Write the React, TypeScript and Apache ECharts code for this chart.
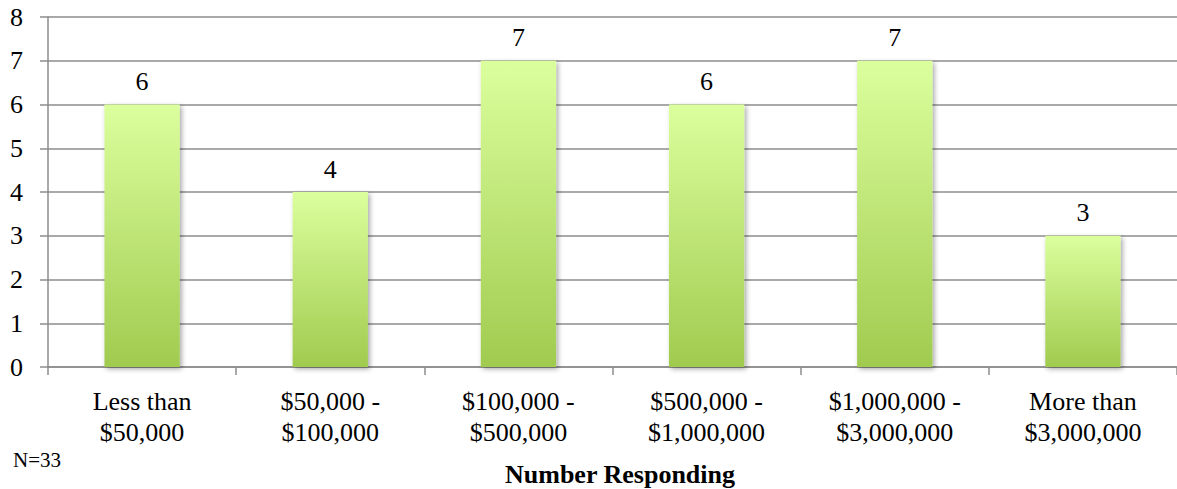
import React, { useEffect, useRef } from "react";
import * as echarts from "echarts";

const categories = [
  "Less than\n$50,000",
  "$50,000 -\n$100,000",
  "$100,000 -\n$500,000",
  "$500,000 -\n$1,000,000",
  "$1,000,000 -\n$3,000,000",
  "More than\n$3,000,000",
];
const responses = [6, 4, 7, 6, 7, 3];
const yTicks = { min: 0, max: 8, interval: 1 };
const titleText = "Number Responding";
const noteText = "N=33";

const FONT = "'Liberation Serif', 'Times New Roman', serif";

export default function App() {
  const ref = useRef<HTMLDivElement>(null);
  useEffect(() => {
    if (!ref.current) return;
    const chart = echarts.init(ref.current, null, { renderer: "svg" });
    chart.setOption({
      animation: false,
      backgroundColor: "#ffffff",
      title: {
        text: titleText,
        left: 615,
        textAlign: "center",
        top: 456,
        textStyle: { fontFamily: FONT, fontSize: 26, fontWeight: "bold", color: "#000" },
      },
      graphic: [
        {
          type: "text",
          left: 13,
          top: 449,
          style: { text: noteText, font: `21px ${FONT}`, fill: "#000" },
        },
      ],
      grid: { left: 48, right: -5, top: 17, bottom: 122, containLabel: false },
      xAxis: {
        type: "category",
        data: categories,
        axisLine: { lineStyle: { color: "#8c8c8c", width: 1.5 } },
        axisTick: { show: true, length: 8, alignWithLabel: false, lineStyle: { color: "#8c8c8c", width: 1.5 } },
        axisLabel: {
          interval: 0,
          margin: 19,
          fontFamily: FONT,
          fontSize: 26,
          lineHeight: 31,
          color: "#000",
        },
      },
      yAxis: {
        type: "value",
        min: yTicks.min,
        max: yTicks.max,
        interval: yTicks.interval,
        axisLine: { show: true, lineStyle: { color: "#8c8c8c", width: 1.5 } },
        axisTick: { show: true, length: 8, lineStyle: { color: "#8c8c8c", width: 1.5 } },
        splitLine: { show: true, lineStyle: { color: "#8c8c8c", width: 1.5 } },
        axisLabel: { margin: 25, fontFamily: FONT, fontSize: 26, color: "#000" },
      },
      series: [
        {
          type: "bar",
          data: responses,
          barWidth: "40%",
          itemStyle: {
            color: new echarts.graphic.LinearGradient(0, 0, 0, 1, [
              { offset: 0, color: "#dbff9d" },
              { offset: 1, color: "#a0cb4f" },
            ]),
            shadowColor: "rgba(0,0,0,0.35)",
            shadowBlur: 5,
            shadowOffsetX: 2,
            shadowOffsetY: 2,
          },
          label: {
            show: true,
            position: "top",
            distance: 10,
            fontFamily: FONT,
            fontSize: 26,
            color: "#000",
          },
        },
      ],
    });
    return () => chart.dispose();
  }, []);
  return <div ref={ref} style={{ width: 1177, height: 489, position: "absolute", left: 0, top: 0 }} />;
}
